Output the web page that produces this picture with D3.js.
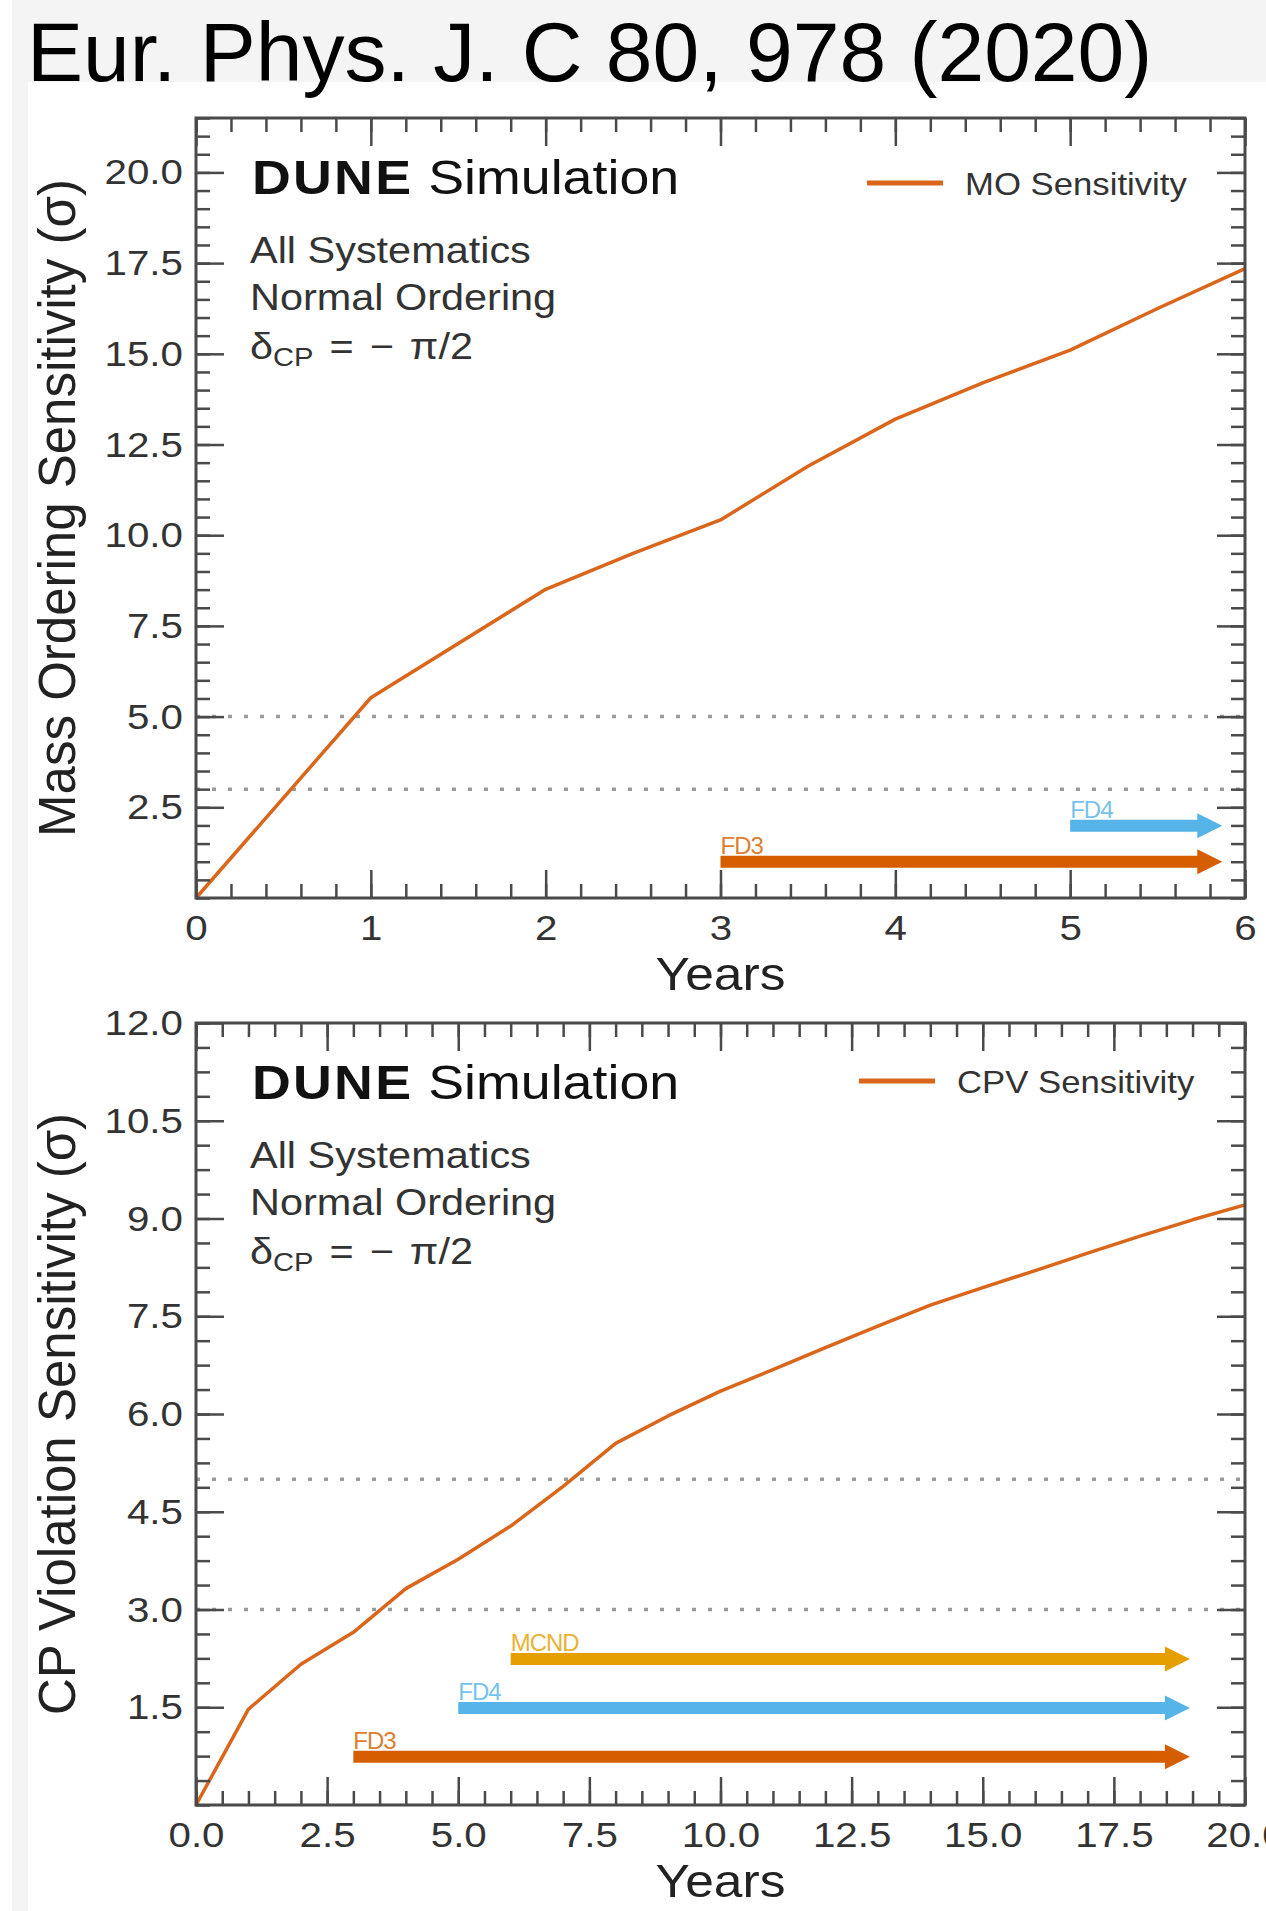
<!doctype html>
<meta charset="utf-8">
<head>
<script src="https://d3js.org/d3.v7.min.js"></script>
<style>
  body { margin: 0; background: #fff; }
  svg text { font-family: "Liberation Sans", Arial, Helvetica, sans-serif; }
</style>
</head>
<body>
<svg width="1266" height="1911"></svg>
<script>
    // ---- data ----
    const moYears = [0, 1, 2, 2.5, 3, 3.5, 4, 4.5, 5, 5.5, 6];
    const moSigma = [0, 5.52, 8.51, 9.5, 10.42, 11.9, 13.2, 14.2, 15.1, 16.25, 17.35];

    const cpvYears = [0, 1, 2, 3, 4, 5, 6, 7, 8, 9, 10, 11, 12, 13, 14, 15, 16, 17, 18, 19, 20];
    const cpvSigma = [0, 1.47, 2.16, 2.65, 3.32, 3.77, 4.28, 4.89, 5.55, 5.97, 6.35,
                      6.68, 7.02, 7.35, 7.67, 7.94, 8.20, 8.47, 8.73, 8.98, 9.21];

    const moStageNames  = ["FD3", "FD4"];
    const moStageStart  = [3, 5];
    const moStageEnd    = [5.87, 5.87];
    const moStageLevel  = [1.0, 1.99];

    const cpvStageNames = ["FD3", "FD4", "MCND"];
    const cpvStageStart = [3, 5, 6];
    const cpvStageEnd   = [18.95, 18.95, 18.95];
    const cpvStageLevel = [0.74, 1.49, 2.24];

    const sigmaLines = [5, 3];

    const moXTicks = [0, 1, 2, 3, 4, 5, 6];
    const moXLabels = ["0", "1", "2", "3", "4", "5", "6"];
    const moYTicks = [2.5, 5, 7.5, 10, 12.5, 15, 17.5, 20];
    const moYLabels = ["2.5", "5.0", "7.5", "10.0", "12.5", "15.0", "17.5", "20.0"];

    const cpvXTicks = [0, 2.5, 5, 7.5, 10, 12.5, 15, 17.5, 20];
    const cpvXLabels = ["0.0", "2.5", "5.0", "7.5", "10.0", "12.5", "15.0", "17.5", "20.0"];
    const cpvYTicks = [1.5, 3, 4.5, 6, 7.5, 9, 10.5, 12];
    const cpvYLabels = ["1.5", "3.0", "4.5", "6.0", "7.5", "9.0", "10.5", "12.0"];

    // ---- styles ----
    const curveColor = "#d9661b";
    const stageColor = { FD3: "#d55e00", FD4: "#56b4e9", MCND: "#e69f00" };
    const axisColor = "#4a4a4a";
    const textColor = "#222";
    const SX = 1.12;   // the source figure is a bit wider than tall

    let svg = d3.select("svg");

    // page background like the slide it was cut from
    svg.append("rect").attr("x", 12).attr("y", 0).attr("width", 1254).attr("height", 82).attr("fill", "#f4f4f4");
    svg.append("rect").attr("x", 12).attr("y", 0).attr("width", 16).attr("height", 1911).attr("fill", "#f4f4f4");

    svg.append("text")
        .attr("x", 27).attr("y", 81)
        .attr("font-size", 84)
        .attr("fill", "#000")
        .text("Eur. Phys. J. C 80, 978 (2020)");

    function stretch(sel, sx) {
        sel.each(function() {
            let t = d3.select(this);
            let x = +t.attr("x") || 0, y = +t.attr("y") || 0;
            t.attr("x", 0).attr("y", 0)
             .attr("transform", `translate(${x},${y}) scale(${sx},1)`);
        });
    }

    function drawPanel(p) {
        let x = d3.scaleLinear().domain(p.xDomain).range([p.left, p.right]);
        let y = d3.scaleLinear().domain(p.yDomain).range([p.bottom, p.top]);
        let g = svg.append("g");

        g.append("rect")
            .attr("x", p.left).attr("y", p.top)
            .attr("width", p.right - p.left).attr("height", p.bottom - p.top)
            .attr("fill", "#fff");

        // 3 and 5 sigma guides
        g.selectAll(".sig")
            .data(sigmaLines)
            .enter().append("line")
            .attr("x1", p.left).attr("x2", p.right)
            .attr("y1", d => y(d)).attr("y2", d => y(d))
            .attr("stroke", "#9a9a9a")
            .attr("stroke-width", 3.5)
            .attr("stroke-dasharray", "4,12");

        // sensitivity curve
        let line = d3.line().x(d => x(d[0])).y(d => y(d[1]));
        g.append("path")
            .datum(p.xs.map((v, i) => [v, p.ys[i]]))
            .attr("d", line)
            .attr("fill", "none")
            .attr("stroke", curveColor)
            .attr("stroke-width", 3.5)
            .attr("stroke-linejoin", "round");

        // staging arrows
        let head = 25, half = 12.5, thick = 12;
        p.stages.forEach((s, i) => {
            let x0 = x(p.stageStart[i]), x1 = x(p.stageEnd[i]), yc = y(p.stageLevel[i]);
            let col = stageColor[s];
            g.append("path")
                .attr("d", `M${x0},${yc - thick / 2} L${x1 - head},${yc - thick / 2} L${x1 - head},${yc - half}` +
                           ` L${x1},${yc} L${x1 - head},${yc + half} L${x1 - head},${yc + thick / 2} L${x0},${yc + thick / 2} Z`)
                .attr("fill", col);
            g.append("text")
                .attr("x", x0).attr("y", yc - thick / 2 - 2)
                .attr("font-size", 24)
                .attr("fill", col)
                .attr("opacity", 0.8)
                .attr("letter-spacing", -1)
                .text(s);
        });

        // ticks on all four sides, pointing inward
        let major = 28, minor = 14;
        let xMinor = d3.range(p.xDomain[0], p.xDomain[1] + 1e-9, p.xMinorStep);
        let yMinor = d3.range(p.yDomain[0], p.yDomain[1] + 1e-9, p.yMinorStep);

        let axes = [
            [d3.axisBottom(x), p.bottom, 0, xMinor, p.xTicks, true],
            [d3.axisTop(x), p.top, 0, xMinor, p.xTicks, false],
            [d3.axisLeft(y), 0, p.left, yMinor, p.yTicks, true],
            [d3.axisRight(y), 0, p.right, yMinor, p.yTicks, false]
        ];
        axes.forEach(([ax, ty, tx, minorVals, majorVals, labelled]) => {
            g.append("g")
                .attr("transform", `translate(${tx},${ty})`)
                .call(ax.tickValues(minorVals).tickSize(-minor).tickFormat(""))
                .call(s => s.select(".domain").remove())
                .call(s => s.selectAll("line").attr("stroke", axisColor).attr("stroke-width", 2.5));
            let labels = labelled ? (ty ? p.xLabels : p.yLabels) : null;
            let ag = g.append("g")
                .attr("transform", `translate(${tx},${ty})`)
                .call(ax.tickValues(majorVals).tickSize(-major)
                        .tickPadding(ty ? 16 : 13)
                        .tickFormat(labelled ? (d, i) => labels[i] : ""))
                .call(s => s.select(".domain").remove())
                .call(s => s.selectAll("line").attr("stroke", axisColor).attr("stroke-width", 2.5));
            ag.selectAll("text")
                .attr("font-size", 36)
                .attr("font-family", "'Liberation Sans', Arial, sans-serif")
                .attr("fill", "#333");
            stretch(ag.selectAll("text"), SX);
        });

        g.append("rect")
            .attr("x", p.left).attr("y", p.top)
            .attr("width", p.right - p.left).attr("height", p.bottom - p.top)
            .attr("fill", "none")
            .attr("stroke", axisColor)
            .attr("stroke-width", 3);

        // axis titles
        let xt = g.append("text")
            .attr("x", (p.left + p.right) / 2).attr("y", p.bottom + 92)
            .attr("text-anchor", "middle")
            .attr("font-size", 46)
            .attr("fill", textColor)
            .text("Years");
        stretch(xt, SX);

        g.append("text")
            .attr("transform", `translate(75,${(p.top + p.bottom) / 2}) rotate(-90)`)
            .attr("text-anchor", "middle")
            .attr("font-size", 51)
            .attr("fill", textColor)
            .text(p.yTitle);

        // DUNE label block
        let dune = g.append("text")
            .attr("x", 252).attr("y", p.top + 76)
            .attr("font-size", 48)
            .attr("fill", "#111");
        dune.append("tspan").attr("font-weight", "bold").attr("letter-spacing", 2).text("DUNE");
        dune.append("tspan").text(" Simulation");
        stretch(dune, SX);

        ["All Systematics", "Normal Ordering"].forEach((t, i) => {
            let tt = g.append("text")
                .attr("x", 250).attr("y", p.top + 145 + i * 47)
                .attr("font-size", 37)
                .attr("fill", "#333")
                .text(t);
            stretch(tt, SX);
        });
        let dcp = g.append("text")
            .attr("x", 250).attr("y", p.top + 241)
            .attr("font-size", 37)
            .attr("fill", "#333");
        dcp.append("tspan").text("δ");
        dcp.append("tspan").attr("font-size", 26).attr("dy", 7).text("CP");
        dcp.append("tspan").attr("dy", -7).attr("word-spacing", 4).text(" = \u2212 π/2");
        stretch(dcp, SX);

        // legend
        g.append("line")
            .attr("x1", p.legX).attr("x2", p.legX + 76)
            .attr("y1", p.legY).attr("y2", p.legY)
            .attr("stroke", curveColor)
            .attr("stroke-width", 5);
        let lt = g.append("text")
            .attr("x", p.legX + 98).attr("y", p.legY + 12)
            .attr("font-size", 31)
            .attr("fill", "#333")
            .text(p.legend);
        stretch(lt, SX);
    }

    drawPanel({
        left: 196, right: 1245, top: 118, bottom: 898,
        xDomain: [0, 6], yDomain: [0, 21.5],
        xTicks: moXTicks, xLabels: moXLabels, xMinorStep: 0.2,
        yTicks: moYTicks, yLabels: moYLabels, yMinorStep: 0.5,
        xs: moYears, ys: moSigma,
        stages: moStageNames, stageStart: moStageStart, stageEnd: moStageEnd, stageLevel: moStageLevel,
        yTitle: "Mass Ordering Sensitivity (σ)",
        legend: "MO Sensitivity", legX: 867, legY: 183
    });

    drawPanel({
        left: 196, right: 1245, top: 1023, bottom: 1805,
        xDomain: [0, 20], yDomain: [0, 12],
        xTicks: cpvXTicks, xLabels: cpvXLabels, xMinorStep: 0.5,
        yTicks: cpvYTicks, yLabels: cpvYLabels, yMinorStep: 0.375,
        xs: cpvYears, ys: cpvSigma,
        stages: cpvStageNames, stageStart: cpvStageStart, stageEnd: cpvStageEnd, stageLevel: cpvStageLevel,
        yTitle: "CP Violation Sensitivity (σ)",
        legend: "CPV Sensitivity", legX: 859, legY: 1081
    });
</script>
</body>
